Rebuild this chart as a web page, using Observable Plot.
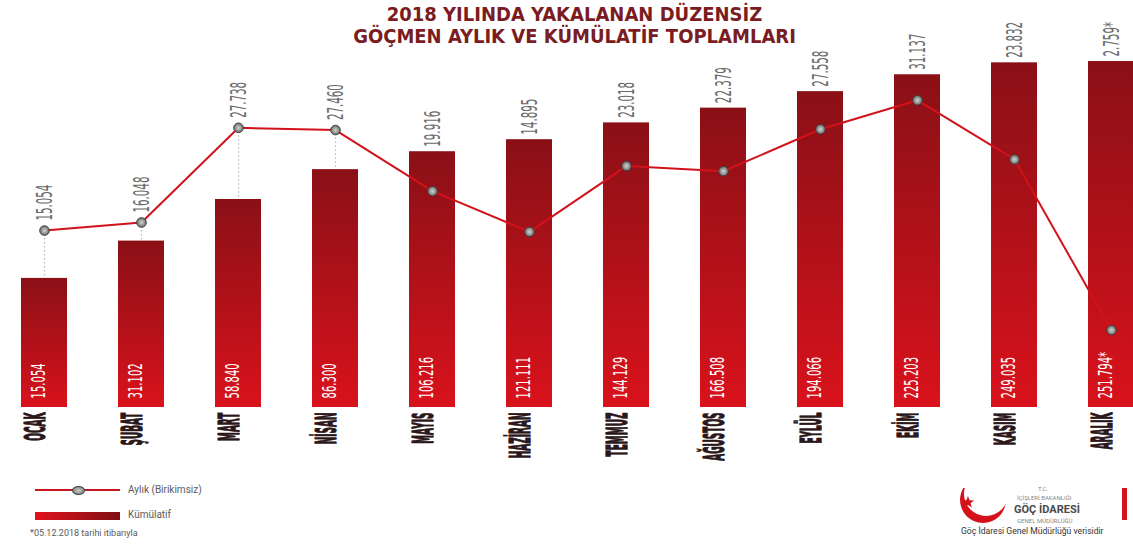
<!DOCTYPE html>
<html>
<head>
<meta charset="utf-8">
<script src="https://cdn.jsdelivr.net/npm/d3@7"></script>
<script src="https://cdn.jsdelivr.net/npm/@observablehq/plot@0.6"></script>
<style>
  body { margin: 0; background: #fff; }
  #wrap { position: relative; width: 1133px; height: 550px; overflow: hidden; font-family: "DejaVu Sans Condensed", "DejaVu Sans", sans-serif; }
  .layer { position: absolute; left: 0; top: 0; }
  #title { position: absolute; left: 8px; top: 3px; width: 1133px; text-align: center; font-weight: bold; font-size: 20px; line-height: 22px; color: #7a1c21; }
  .lg { position: absolute; font-family: Roboto, "DejaVu Sans", sans-serif; color: #5a5a5a; white-space: nowrap; }
</style>
</head>
<body>
<div id="wrap">
  <div id="bars" class="layer"></div>
  <div id="line" class="layer"></div>
  <div id="title">2018 YILINDA YAKALANAN DÜZENSİZ<br>GÖÇMEN AYLIK VE KÜMÜLATİF TOPLAMLARI</div>

  <!-- legend -->
  <div style="position:absolute;left:35px;top:489px;width:85px;height:2px;background:#c8161f"></div>
  <div style="position:absolute;left:72px;top:486px;width:11px;height:7px;border-radius:50%;background:radial-gradient(#c9cbc9,#70726f);border:1px solid #444"></div>
  <div class="lg" style="left:128px;top:484px;font-size:10px">Aylık (Birikimsiz)</div>
  <div style="position:absolute;left:35px;top:512px;width:85px;height:8px;background:linear-gradient(to right,#e2131d,#7e0e13)"></div>
  <div class="lg" style="left:128px;top:509px;font-size:10px">Kümülatif</div>
  <div class="lg" style="left:30px;top:528px;font-size:9px">*05.12.2018 tarihi itibarıyla</div>

  <!-- source logo -->
  <svg style="position:absolute;left:950px;top:488px" width="66" height="40">
    <circle cx="33" cy="12" r="23" fill="#d5121c"/>
    <circle cx="36" cy="6" r="22" fill="#fff"/>
    <polygon fill="#d5121c" points="18,8 19.6,12.2 24.1,12.4 20.6,15.2 21.8,19.6 18,17.1 14.2,19.6 15.4,15.2 11.9,12.4 16.4,12.2"/>
  </svg>
  <div class="lg" style="left:1018px;top:485px;width:50px;text-align:center;font-size:6px;color:#888">T.C.</div>
  <div class="lg" style="left:1017px;top:494px;width:52px;text-align:center;font-size:6px;color:#888">İÇİŞLERİ BAKANLIĞI</div>
  <div class="lg" style="left:1014px;top:503px;width:58px;text-align:center;font-size:11px;font-weight:bold;color:#4a4a4a">GÖÇ İDARESİ</div>
  <div class="lg" style="left:1017px;top:517px;width:52px;text-align:center;font-size:6px;color:#888">GENEL MÜDÜRLÜĞÜ</div>
  <div style="position:absolute;left:1122px;top:488px;width:5px;height:32px;background:#d5121c"></div>
  <div class="lg" style="left:961px;top:526px;font-size:8.6px;color:#333">Göç İdaresi Genel Müdürlüğü verisidir</div>
</div>

<script>
// ---- data ----
const months = ["OCAK","ŞUBAT","MART","NİSAN","MAYIS","HAZİRAN","TEMMUZ","AĞUSTOS","EYLÜL","EKİM","KASIM","ARALIK"];
const monthly = [15054,16048,27738,27460,19916,14895,23018,22379,27558,31137,23832,2759];
const cumulative = [15054,31102,58840,86300,106216,121111,144129,166508,194066,225203,249035,251794];
const notes = ["","","","","","","","","","","","*"];

const fmt = d3.formatLocale({decimal: ",", thousands: ".", grouping: [3], currency: ["", ""]}).format(",d");
const rows = months.map((m, i) => ({month: m, monthly: monthly[i], cum: cumulative[i], note: notes[i]}));

const W = 1133, H = 470, BOTTOM = 407;
const FONT = "DejaVu Sans Condensed, DejaVu Sans, sans-serif";
const xOpts = {type: "band", domain: months, range: [-34.8, 1189.8], padding: 0.524, axis: null};

const barPlot = Plot.plot({
  width: W, height: H,
  marginTop: 61, marginBottom: H - BOTTOM, marginLeft: 0, marginRight: 0,
  x: xOpts,
  y: {type: "pow", exponent: 0.35, domain: [0, 251794], axis: null},
  style: {background: "transparent", fontFamily: FONT, overflow: "visible"},
  marks: [
    Plot.barY(rows, {x: "month", y: "cum", fill: "url(#barGrad)"}),
    Plot.text(rows, {x: "month", frameAnchor: "bottom", dy: -9, rotate: -90, textAnchor: "start",
      text: d => fmt(d.cum) + d.note, fill: "#fff", fontSize: 20}),
    Plot.text(rows, {x: "month", frameAnchor: "bottom", dy: 5, rotate: -90, textAnchor: "end",
      text: "month", fill: "#2b1719", stroke: "#2b1719", strokeWidth: 1.3,
      fontFamily: "DejaVu Sans, sans-serif", fontSize: 29, fontWeight: "bold"})
  ]
});
barPlot.insertAdjacentHTML("afterbegin",
  `<defs><linearGradient id="barGrad" x1="0" y1="0" x2="0" y2="1">
     <stop offset="0" stop-color="#8a1016"/><stop offset="1" stop-color="#d9121c"/>
   </linearGradient></defs>`);

const by = barPlot.scale("y");
const lyOpts = {domain: [0, 35000], range: [352, 68.5]};
const ly = Plot.scale({y: lyOpts});
rows.forEach(d => {
  const pPx = ly.apply(d.monthly), bPx = by.apply(d.cum);
  d.barTop = ly.invert(bPx);
  d.labelAt = ly.invert(Math.min(pPx - 10, bPx - 5));
});

const linePlot = Plot.plot({
  width: W, height: H, marginTop: 0, marginBottom: 0, marginLeft: 0, marginRight: 0,
  x: xOpts,
  y: {...lyOpts, axis: null},
  style: {background: "transparent", fontFamily: FONT, overflow: "visible"},
  marks: [
    Plot.ruleX(rows.filter(d => d.monthly > d.barTop), {x: "month", y1: "monthly", y2: "barTop",
      stroke: "#b5b5b5", strokeWidth: 1.2, strokeDasharray: "1.5,2.5"}),
    Plot.lineY(rows, {x: "month", y: "monthly", stroke: "#d2121b", strokeWidth: 2}),
    Plot.dot(rows, {x: "month", y: "monthly", r: 4.8, fill: "url(#dotGrad)", stroke: "#3d3d3d", strokeWidth: 1}),
    Plot.text(rows, {x: "month", y: "labelAt", rotate: -90, textAnchor: "start",
      text: d => fmt(d.monthly) + d.note, fill: "#6a6a6a", fontSize: 22})
  ]
});
linePlot.insertAdjacentHTML("afterbegin",
  `<defs><radialGradient id="dotGrad" cx="0.5" cy="0.5" r="0.5">
     <stop offset="0" stop-color="#d2d5d2"/><stop offset="1" stop-color="#6b6e6c"/>
   </radialGradient></defs>`);

// compress the rotated labels along their reading direction (condensed type)
function squeeze(svg, markIndex, sx) {
  const groups = Array.from(svg.children).filter(el => el.tagName.toLowerCase() === "g");
  const g = groups[markIndex];
  if (!g) return;
  g.querySelectorAll("text").forEach(t => {
    const tr = t.getAttribute("transform");
    if (tr) {
      t.setAttribute("transform", tr + ` scale(${sx},1)`);
    } else {
      const x = +t.getAttribute("x") || 0, y = +t.getAttribute("y") || 0;
      t.removeAttribute("x"); t.removeAttribute("y");
      t.setAttribute("transform", `translate(${x},${y}) rotate(-90) scale(${sx},1)`);
    }
  });
}
squeeze(barPlot, 1, 0.56);
squeeze(barPlot, 2, 0.31);
squeeze(linePlot, 3, 0.52);

document.getElementById("bars").appendChild(barPlot);
document.getElementById("line").appendChild(linePlot);
</script>
</body>
</html>
